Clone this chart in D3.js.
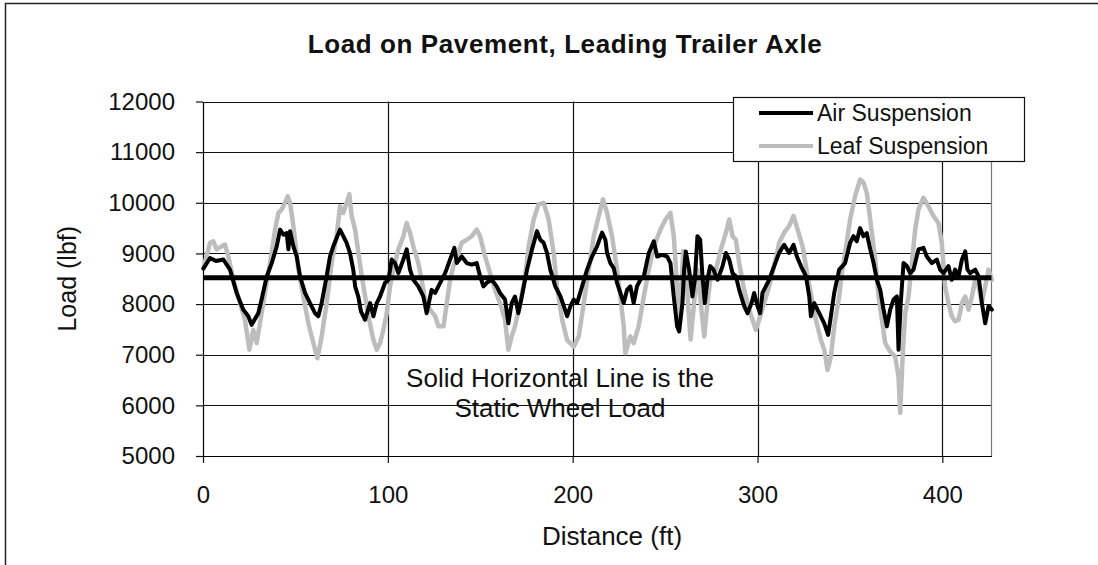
<!DOCTYPE html>
<html lang="en">
<head>
<meta charset="UTF-8">
<title>Load on Pavement, Leading Trailer Axle</title>
<script src="https://d3js.org/d3.v7.min.js"></script>
<style>
  html, body { margin: 0; background: #fff; overflow: hidden; }
  svg { display: block; font-family: "Liberation Sans", Arial, sans-serif; }
  .tick text { fill: #111; font-size: 24px; }
  .domain { stroke: #000; }
</style>
</head>
<body>
<svg width="1098" height="565"></svg>
<script>
// values: [distance ft, load lbf]
const airLoad = [[0.2,8700],[3.8,8910],[7.0,8850],[11,8880],[14.6,8680],[18.2,8220],[21.8,7890],[24.5,7760],[26.3,7590],[29.9,7820],[31.7,8090],[34.5,8550],[37.2,8810],[39.9,9140],[41.7,9470],[43.5,9370],[45.3,9400],[46.2,9080],[47.1,9440],[48.9,9140],[50.7,8940],[52.5,8550],[55.2,8220],[57.9,8020],[60.6,7820],[62.4,7760],[64.2,8020],[66.9,8550],[68.7,8940],[70.5,9140],[74.1,9470],[75.9,9340],[77.7,9210],[79.5,9010],[81.3,8680],[82.3,8350],[84,8150],[85.5,7850],[87.7,7690],[90.4,8020],[92.2,7760],[94.0,8020],[95.8,8150],[98.5,8420],[100.3,8480],[102.1,8880],[103.9,8810],[105.7,8610],[108.4,8880],[110.2,9080],[112.0,8680],[113.8,8480],[116.5,8350],[119.2,8150],[121.0,7820],[123.7,8280],[125.6,8220],[128.3,8420],[131.0,8610],[133.7,8880],[136.0,9110],[137.3,8810],[140.0,8940],[142.7,8810],[145.4,8780],[148.1,8810],[149.9,8550],[151.7,8350],[153.5,8420],[156.2,8480],[158.9,8350],[160.7,8220],[163.4,8090],[165.2,7620],[167.0,8020],[168.8,8150],[170.6,7820],[172.5,8150],[175.3,8680],[178.0,9080],[180.7,9440],[182.5,9270],[184.3,9210],[186.1,9010],[187.9,8680],[190.6,8350],[193.4,8150],[195.2,7960],[197.0,7760],[198.8,7960],[200.6,8090],[202.4,8020],[205.1,8350],[207.8,8680],[210.5,8940],[213.2,9140],[215.9,9410],[217.7,9270],[218.6,9010],[220.4,8810],[222.2,8710],[224.0,8420],[225.8,8220],[227.6,8020],[229.4,8280],[231.2,8350],[233.0,8020],[234.8,8350],[236.6,8480],[238.5,8550],[241.2,9010],[243.9,9240],[245.7,8940],[248.4,8970],[251.1,8940],[252.9,8810],[254.7,8150],[256.5,7560],[257.6,7460],[259.4,8020],[260.3,8680],[261.2,9040],[263.0,8680],[264.8,8150],[266.1,8480],[267.5,9340],[269.0,9270],[270.2,8550],[271.5,8020],[272.9,8480],[274.4,8750],[276.2,8680],[278.4,8480],[281.1,8750],[282.9,9010],[284.7,8880],[286.5,8610],[288.3,8550],[290.1,8280],[292.8,7960],[294.6,7820],[296.8,8020],[298.2,8220],[300.0,7960],[301.4,7820],[302.7,8220],[304.5,8350],[306.3,8480],[309.0,8750],[311.7,9010],[314.4,9170],[317.1,9010],[319.5,9170],[321.3,8940],[323.5,8750],[326.2,8550],[328.0,8150],[328.9,7760],[330.7,8020],[333.4,7820],[336.1,7620],[338.2,7390],[339.7,7760],[341.5,8220],[344.2,8680],[347.4,8810],[350.1,9210],[351.9,9340],[353.7,9240],[355.5,9500],[357.3,9340],[359.1,9400],[361.0,9080],[362.8,8810],[364.6,8480],[366.4,8280],[368.2,7890],[370.0,7560],[371.8,7890],[373.6,8090],[375.4,8150],[376.3,7100],[377.5,8020],[379.0,8810],[380.8,8750],[382.6,8610],[384.4,8680],[387.1,9080],[389.8,9110],[391.6,8940],[394.3,8810],[397.0,8880],[398.8,8680],[400.6,8610],[403.3,8750],[405.1,8480],[406.9,8680],[408.8,8550],[410.6,8880],[412.4,9040],[413.6,8680],[415.1,8610],[417.8,8680],[419.6,8550],[421.4,8020],[423.2,7620],[425.0,7960],[426.8,7890]];

const leafLoad = [[0.2,8710],[3.8,9210],[5.6,9240],[7.4,9080],[10.1,9140],[11.9,9175],[13.7,8940],[16.4,8480],[20.0,8020],[22.7,7690],[25.1,7100],[27.2,7490],[29.0,7230],[30.8,7620],[33.5,8220],[36.3,8810],[39.0,9470],[40.8,9800],[42.6,9870],[44.4,10000],[45.8,10130],[47.1,10000],[48.9,9540],[51.6,8680],[54.3,8150],[57.0,7620],[59.7,7230],[61.9,6930],[64.2,7360],[66.9,8020],[69.6,8810],[72.3,9340],[74.1,9930],[75.9,9800],[77.7,10000],[79.2,10170],[80.4,9740],[82.3,9470],[84.1,9010],[85.9,8550],[86.8,8350],[89.5,7760],[92.2,7290],[94.0,7100],[95.8,7230],[97.6,7490],[99.4,7820],[101.2,8350],[103.0,8680],[105.7,9080],[108.4,9340],[110.2,9600],[112.0,9410],[113.8,9140],[116.5,8810],[118.3,8480],[120.1,8090],[122.8,7890],[125.6,7760],[127.4,7560],[130.1,7560],[131.9,8020],[133.7,8480],[135.5,8750],[138.2,9010],[140.0,9210],[142.7,9270],[145.4,9340],[148.1,9470],[149.9,9340],[152.6,8940],[155.3,8610],[158.0,8280],[160.7,8020],[163.4,7690],[165.2,7100],[167.0,7360],[168.8,7560],[171.6,8020],[174.3,8550],[176.2,9140],[178.9,9670],[181.6,9970],[184.3,10000],[187.0,9670],[189.7,9010],[191.5,8350],[194.3,7690],[197.0,7290],[200.6,7160],[203.3,7360],[206.0,8020],[208.7,8680],[211.4,9340],[214.1,9740],[216.4,10070],[218.6,9800],[221.3,9340],[224.0,8680],[225.8,8150],[227.6,7560],[228.5,7030],[231.2,7360],[233.0,7230],[235.7,7560],[238.5,8150],[241.2,8680],[243.9,9140],[247.5,9470],[250.2,9670],[252.9,9800],[254.7,9340],[256.3,8480],[258.1,7700],[259.8,9050],[261.5,8500],[263.8,7300],[265.7,8020],[267.5,8680],[269.3,8020],[271.2,7360],[272.9,8020],[274.7,8550],[277.5,8680],[280.2,9080],[282.9,9410],[284.7,9670],[286.5,9340],[288.3,9270],[290.1,8810],[292.8,8280],[295.5,7890],[297.3,7690],[299.1,7490],[300.9,7690],[303.6,8020],[306.3,8350],[309.0,8750],[311.7,9210],[314.4,9410],[317.1,9540],[319.5,9740],[321.7,9470],[324.4,9140],[327.1,8550],[329.8,8020],[331.6,7690],[334.3,7290],[336.1,7100],[337.9,6700],[339.7,6960],[341.5,7560],[344.2,8150],[345.6,8600],[347.4,9010],[350.1,9670],[352.8,10130],[355.5,10460],[357.3,10400],[359.1,10200],[361.0,9670],[363.7,8880],[365.5,8150],[367.3,7690],[369.1,7230],[371.8,7060],[374.5,6960],[376.3,6560],[377.2,5850],[378.6,7030],[379.9,7820],[381.7,8150],[383.5,8810],[385.3,9470],[387.1,9870],[389.8,10100],[392.5,9930],[395.2,9740],[397.9,9600],[399.7,9210],[401.5,8350],[403.3,8020],[405.1,7760],[406.9,7660],[408.8,7690],[410.6,8020],[412.4,8150],[414.2,7890],[416.0,8150],[417.8,8480],[419.6,8350],[421.4,8020],[423.2,8350],[425.0,8680],[426.8,8480]];

const staticLoad = 8520;
const xTicks = [0, 100, 200, 300, 400];
const yTicks = [5000, 6000, 7000, 8000, 9000, 10000, 11000, 12000];
const seriesNames = ["Air Suspension", "Leaf Suspension"];
const note = ["Solid Horizontal Line is the", "Static Wheel Load"];

const svg = d3.select("svg");
const plotL = 203, plotR = 991.5, plotT = 101.5, plotB = 456;

// outer chart frame (right/bottom edges fall outside the picture)
svg.append("rect")
  .attr("x", 5.5).attr("y", 3.5).attr("width", 1120).attr("height", 620)
  .attr("fill", "#fff").attr("stroke", "#222").attr("stroke-width", 1.5);

const x = d3.scaleLinear().domain([0, 426.6]).range([plotL, plotR]);
const y = d3.scaleLinear().domain([5000, 12000]).range([plotB, plotT]);

// gridlines
svg.append("g").selectAll("line").data(yTicks).join("line")
  .attr("x1", plotL).attr("x2", plotR)
  .attr("y1", d => Math.round(y(d)) + 0.5).attr("y2", d => Math.round(y(d)) + 0.5)
  .attr("stroke", "#111").attr("stroke-width", 1.2);
svg.append("g").selectAll("line").data(xTicks.slice(1)).join("line")
  .attr("x1", d => Math.round(x(d)) + 0.5).attr("x2", d => Math.round(x(d)) + 0.5)
  .attr("y1", plotT).attr("y2", plotB)
  .attr("stroke", "#111").attr("stroke-width", 1.2);
// plot area right edge
svg.append("line")
  .attr("x1", plotR).attr("x2", plotR).attr("y1", plotT).attr("y2", plotB)
  .attr("stroke", "#777").attr("stroke-width", 1.2);

// axes
svg.append("g")
  .attr("transform", `translate(${plotL},0)`)
  .call(d3.axisLeft(y).tickValues(yTicks).tickFormat(d3.format("d"))
    .tickSize(7).tickSizeOuter(0).tickPadding(21))
  .call(g => g.selectAll(".tick line").attr("stroke", "#111").attr("stroke-width", 1.2))
  .call(g => g.select(".domain").attr("stroke-width", 1.2));

svg.append("g")
  .attr("transform", `translate(0,${plotB})`)
  .call(d3.axisBottom(x).tickValues(xTicks).tickFormat(d3.format("d"))
    .tickSize(7).tickSizeOuter(0).tickPadding(23))
  .call(g => g.selectAll(".tick line").attr("stroke", "#111").attr("stroke-width", 1.2))
  .call(g => g.select(".domain").attr("stroke-width", 1.2));

// series
const line = d3.line().x(d => x(d[0])).y(d => y(d[1]));

svg.append("path").datum(leafLoad)
  .attr("d", line).attr("fill", "none")
  .attr("stroke", "#bdbdbd").attr("stroke-width", 4.5)
  .attr("stroke-linejoin", "round").attr("stroke-linecap", "round");

svg.append("path").datum(airLoad)
  .attr("d", line).attr("fill", "none")
  .attr("stroke", "#000").attr("stroke-width", 4)
  .attr("stroke-linejoin", "round").attr("stroke-linecap", "round");

// static wheel load
svg.append("line")
  .attr("x1", x(0)).attr("x2", plotR)
  .attr("y1", y(staticLoad)).attr("y2", y(staticLoad))
  .attr("stroke", "#000").attr("stroke-width", 5);

// note
svg.append("g").selectAll("text").data(note).join("text")
  .attr("x", 560).attr("y", (d, i) => 387 + i * 30)
  .attr("text-anchor", "middle")
  .attr("font-size", 26).attr("fill", "#111")
  .text(d => d);

// title
svg.append("text")
  .attr("x", 565).attr("y", 53)
  .attr("text-anchor", "middle")
  .attr("font-size", 26).attr("font-weight", "bold").attr("letter-spacing", 0.6)
  .attr("fill", "#111")
  .text("Load on Pavement, Leading Trailer Axle");

// axis titles
svg.append("text")
  .attr("x", 612).attr("y", 545)
  .attr("text-anchor", "middle")
  .attr("font-size", 26).attr("fill", "#111")
  .text("Distance (ft)");

svg.append("text")
  .attr("transform", `translate(76,${(plotT + plotB) / 2}) rotate(-90)`)
  .attr("text-anchor", "middle")
  .attr("font-size", 25).attr("fill", "#111")
  .text("Load (lbf)");

// legend
const legend = svg.append("g");
legend.append("rect")
  .attr("x", 733.5).attr("y", 97.5).attr("width", 291).attr("height", 64)
  .attr("fill", "#fff").attr("stroke", "#111").attr("stroke-width", 1.2);
const legendColors = ["#000", "#bdbdbd"];
seriesNames.forEach((name, i) => {
  const cy = 113 + i * 33;
  legend.append("line")
    .attr("x1", 759).attr("x2", 813).attr("y1", cy).attr("y2", cy)
    .attr("stroke", legendColors[i]).attr("stroke-width", 4);
  legend.append("text")
    .attr("x", 817).attr("y", cy + 8)
    .attr("font-size", 23).attr("fill", "#111")
    .text(name);
});
</script>
</body>
</html>
